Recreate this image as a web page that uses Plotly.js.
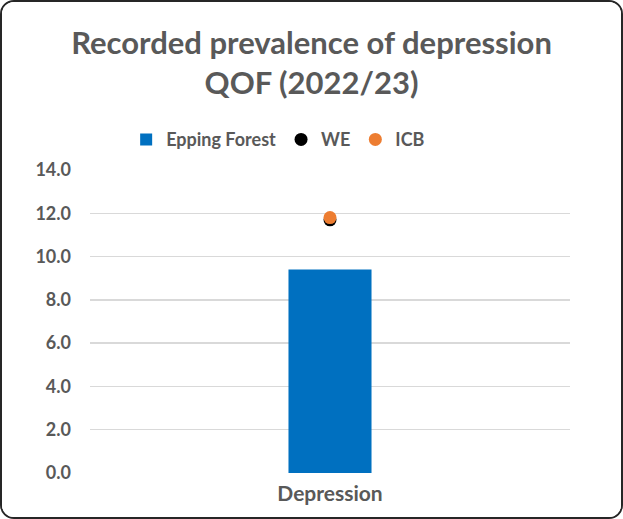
<!DOCTYPE html>
<html><head><meta charset="utf-8">
<script src="https://cdn.plot.ly/plotly-3.0.1.min.js"></script>
<style>
html,body{margin:0;padding:0;background:#fff;}
#wrap{position:absolute;left:0;top:0;width:619px;height:515px;border:2px solid #262626;border-radius:14px;overflow:hidden;background:#fff;}
#chart{width:619px;height:515px;}
</style></head>
<body><div id="wrap"><div id="chart"></div></div>
<script>
const categories = ["Depression"];
const eppingForest = [9.4];
const we = [11.7];
const icb = [11.8];
const tickVals = [0, 2, 4, 6, 8, 10, 12, 14];
const tickText = ["0.0", "2.0", "4.0", "6.0", "8.0", "10.0", "12.0", "14.0"];

const fontFam = "Lato, 'Open Sans', sans-serif";
const data = [
  {type: "bar", name: "<b>Epping Forest</b>", x: categories, y: eppingForest,
   marker: {color: "#0070C0"}, width: 0.173},
  {type: "scatter", mode: "markers", name: "<b>WE</b>", x: categories, y: we,
   marker: {color: "#000000", size: 13}},
  {type: "scatter", mode: "markers", name: "<b>ICB</b>", x: categories, y: icb,
   marker: {color: "#ED7D31", size: 13}}
];
const layout = {
  width: 619, height: 515,
  margin: {l: 88, r: 51, t: 168, b: 44},
  paper_bgcolor: "#fff", plot_bgcolor: "#fff",
  font: {family: fontFam, color: "#595959"},
  title: {text: "<b>Recorded prevalence of depression<br>QOF (2022/23)</b>",
          font: {size: 31, color: "#595959", family: fontFam},
          x: 0.5, xanchor: "center", yref: "container", y: 0.90, yanchor: "top"},
  showlegend: true,
  legend: {orientation: "h", x: 0.392, xanchor: "center", y: 1.10, yanchor: "middle",
           font: {size: 18, color: "#595959", family: fontFam}, itemwidth: 30,
           traceorder: "normal"},
  xaxis: {type: "category", showgrid: false, zeroline: false, showline: false,
          tickfont: {size: 21, color: "#595959", family: fontFam},
          tickprefix: "<b>", ticksuffix: "</b>", ticks: "", ticklabelstandoff: 6},
  yaxis: {range: [0, 14], tickvals: tickVals, ticktext: tickText.map(t => "<b>" + t + "</b>"),
          showgrid: true, gridcolor: "#D9D9D9", gridwidth: 1.5, zeroline: false,
          showline: false, ticks: "", ticklabelstandoff: 18,
          tickfont: {size: 18, color: "#595959", family: fontFam}}
};
Plotly.newPlot("chart", data, layout, {displayModeBar: false, staticPlot: true});
</script></body></html>
